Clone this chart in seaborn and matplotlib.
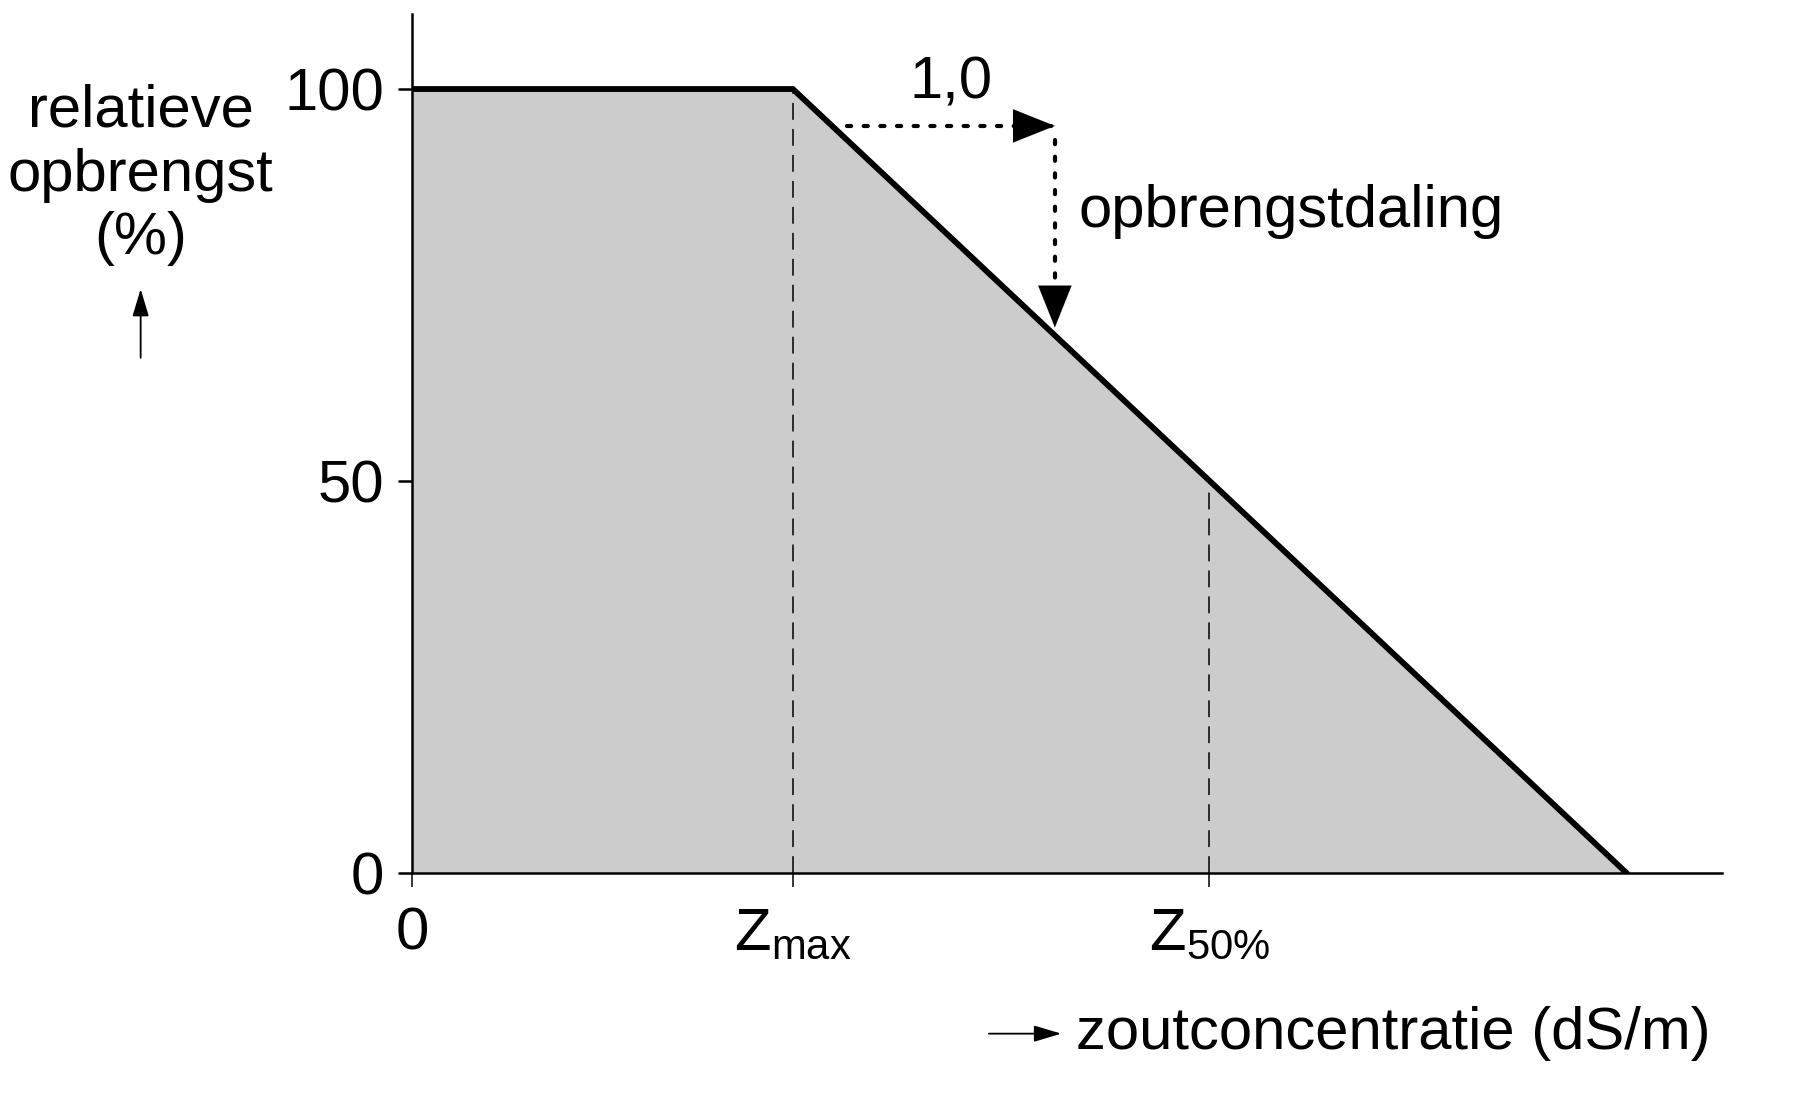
import matplotlib
matplotlib.use("Agg")
import matplotlib.pyplot as plt
import seaborn as sns
import pandas as pd

# ---- data (arbitrary salt-concentration units) ----
z_points = [0.0, 3.33, 10.62]          # 0, Z_max, zero-yield point
yield_points = [100, 100, 0]            # relative yield (%)
z_max = 3.33
z_50 = 6.97
yield_at_z50 = 50
y_ticks = [0, 50, 100]
y_ticklabels = ["0", "50", "100"]
x_ticks = [0, z_max, z_50]
x_ticklabels = ["0", r"$\mathregular{Z_{max}}$", r"$\mathregular{Z_{50\%}}$"]
slope_run = [3.8, 5.62]                 # horizontal "1,0" step
slope_y = 95.3
slope_drop_end = 69.6

sns.set_theme(style="ticks")
plt.rcParams["font.family"] = ["Liberation Sans", "DejaVu Sans"]
plt.rcParams["mathtext.fontset"] = "custom"
plt.rcParams["mathtext.rm"] = "Liberation Sans"
plt.rcParams["mathtext.it"] = "Liberation Sans"
plt.rcParams["text.color"] = "black"
plt.rcParams["xtick.labelcolor"] = "black"
plt.rcParams["ytick.labelcolor"] = "black"
plt.rcParams["xtick.color"] = "black"
plt.rcParams["ytick.color"] = "black"

FS = 43
fig = plt.figure(figsize=(17.94, 11.08), dpi=100)
ax = fig.add_axes([0.2296, 0.2118, 0.9598 - 0.2296, 0.9876 - 0.2118])

df = pd.DataFrame({"z": z_points, "y": yield_points})
ax.fill_between(df["z"], df["y"], 0, color="#cccccc", lw=0, zorder=1)
sns.lineplot(data=df, x="z", y="y", ax=ax, color="black", lw=4.2,
             sort=False, estimator=None, zorder=4, solid_joinstyle="miter")

# dashed guide lines
ax.vlines([z_max, z_50], 0, [100, yield_at_z50], colors="black", lw=1.1,
          linestyles=[(0, (11, 6))], zorder=3)

# dotted slope indicator
ax.plot(slope_run, [slope_y, slope_y], color="black", lw=3,
        linestyle=(0, (1, 3)), dash_capstyle="round", zorder=5)
ax.plot([slope_run[1], slope_run[1]], [slope_y - 1.8, slope_drop_end + 3], color="black", lw=3,
        linestyle=(0, (1, 3)), dash_capstyle="round", zorder=5)
ax.annotate("", xy=(slope_run[1], slope_y), xytext=(slope_run[1] - 0.2, slope_y),
            arrowprops=dict(arrowstyle="-|>,head_length=1.0,head_width=0.4",
                            color="black", lw=0.1, mutation_scale=30, shrinkA=0, shrinkB=0), zorder=6)
ax.annotate("", xy=(slope_run[1], slope_drop_end), xytext=(slope_run[1], slope_drop_end + 3),
            arrowprops=dict(arrowstyle="-|>,head_length=1.0,head_width=0.4",
                            color="black", lw=0.1, mutation_scale=30, shrinkA=0, shrinkB=0), zorder=6)
ax.text((slope_run[0] + slope_run[1]) / 2 + 0.0, 100.8, "1,0", fontsize=FS,
        ha="center", va="center")
ax.text(5.83, 84.4, "opbrengstdaling", fontsize=FS, ha="left", va="center")

ax.set_xlim(0, 11.45)
ax.set_ylim(0, 109.6)
ax.set_xticks(x_ticks)
ax.set_xticklabels(x_ticklabels)
ax.set_yticks(y_ticks)
ax.set_yticklabels(y_ticklabels)
ax.tick_params(axis="x", length=10, width=1.1, pad=14, labelsize=FS, color="black")
ax.tick_params(axis="y", length=10, width=1.8, pad=10, labelsize=FS, color="black")
ax.set_xlabel("")
ax.set_ylabel("")
for s in ["top", "right"]:
    ax.spines[s].set_visible(False)
for s in ["left", "bottom"]:
    ax.spines[s].set_linewidth(1.8)
    ax.spines[s].set_color("black")
ax.patch.set_alpha(0)

# axis titles with arrows
fig.text(0.0784, 0.842, "relatieve\nopbrengst\n(%)", fontsize=FS, ha="center",
         va="center", multialignment="center", linespacing=1.2)
fig.add_artist(matplotlib.patches.FancyArrowPatch(
    (0.0784, 0.6746), (0.0784, 0.7417), transform=fig.transFigure,
    arrowstyle="-|>,head_length=0.6,head_width=0.18", mutation_scale=28, lw=1.3, color="black"))
fig.add_artist(matplotlib.patches.FancyArrowPatch(
    (0.5497, 0.0671), (0.5931, 0.0671), transform=fig.transFigure,
    arrowstyle="-|>,head_length=0.6,head_width=0.18", mutation_scale=28, lw=1.3, color="black"))
fig.text(0.5995, 0.0671, "zoutconcentratie (dS/m)", fontsize=FS, ha="left", va="center")

fig.savefig("out.png", dpi=100, facecolor="white")
